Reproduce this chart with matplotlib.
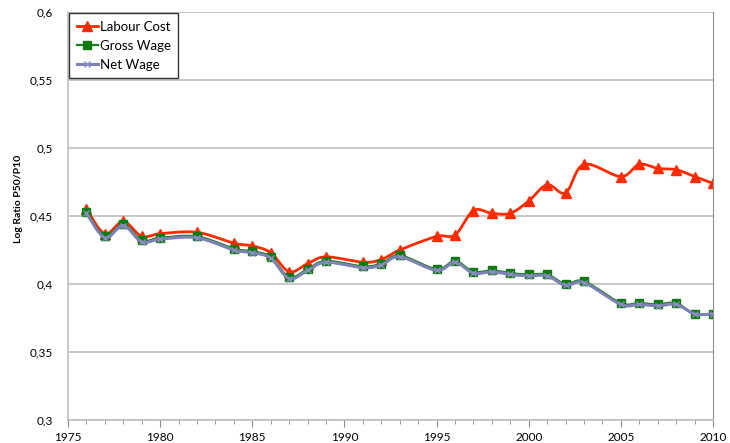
import numpy as np
import matplotlib.pyplot as plt
from matplotlib.ticker import FuncFormatter, MultipleLocator

# Data
years = [1976, 1977, 1978, 1979, 1980, 1982, 1984, 1985, 1986, 1987, 1988, 1989,
         1991, 1992, 1993, 1995, 1996, 1997, 1998, 1999, 2000, 2001, 2002, 2003,
         2005, 2006, 2007, 2008, 2009, 2010]
labour_cost = [0.455, 0.437, 0.446, 0.435, 0.437, 0.438, 0.430, 0.428, 0.423, 0.409,
               0.415, 0.420, 0.416, 0.418, 0.425, 0.435, 0.436, 0.454, 0.452, 0.452,
               0.461, 0.473, 0.467, 0.488, 0.479, 0.488, 0.485, 0.484, 0.479, 0.474]
gross_wage = [0.453, 0.435, 0.444, 0.432, 0.434, 0.435, 0.426, 0.424, 0.420, 0.405,
              0.411, 0.417, 0.413, 0.415, 0.421, 0.411, 0.417, 0.409, 0.410, 0.408,
              0.407, 0.407, 0.400, 0.402, 0.386, 0.386, 0.385, 0.386, 0.378, 0.378]
net_wage = [0.452, 0.434, 0.443, 0.431, 0.433, 0.434, 0.425, 0.423, 0.419, 0.404,
            0.410, 0.416, 0.412, 0.414, 0.420, 0.410, 0.416, 0.408, 0.409, 0.407,
            0.406, 0.406, 0.399, 0.401, 0.385, 0.385, 0.384, 0.385, 0.378, 0.378]


def smooth(x, y, n=20):
  """Excel-like smoothed line (Catmull-Rom through the points)"""
  x = np.asarray(x, float)
  y = np.asarray(y, float)
  px = np.concatenate([[x[0]], x, [x[-1]]])
  py = np.concatenate([[y[0]], y, [y[-1]]])
  xs, ys = [], []
  t = np.linspace(0, 1, n)
  for i in range(1, len(px) - 2):
    for p, out in ((px, xs), (py, ys)):
      p0, p1, p2, p3 = p[i - 1], p[i], p[i + 1], p[i + 2]
      m1 = (p2 - p0) / 6
      m2 = (p3 - p1) / 6
      out.extend((1 - t) ** 3 * p1 + 3 * (1 - t) ** 2 * t * (p1 + m1)
                 + 3 * (1 - t) * t ** 2 * (p2 - m2) + t ** 3 * p2)
  return xs, ys


plt.rcParams['font.family'] = ['Lato', 'DejaVu Sans']

fig = plt.figure(figsize=(7.3, 4.43), dpi=100)
ax = fig.add_axes([0.0932, 0.0519, 0.8835, 0.921])

series = [
  ('Labour Cost', labour_cost, '#FF2A00', '^', '#FF2A00', 6.5, 2.0),
  ('Gross Wage', gross_wage, '#1E7B1E', 's', '#0F7A0F', 6, 1.6),
  ('Net Wage', net_wage, '#7C83B4', 'x', '#8A90C0', 4, 2.2),
]
for name, vals, color, marker, mcolor, ms, lw in series:
  sx, sy = smooth(years, vals)
  ax.plot(sx, sy, color=color, lw=lw)
  ax.plot(years, vals, ls='none', marker=marker, ms=ms, color=mcolor,
          markeredgecolor=mcolor)
  ax.plot([], [], color=color, lw=lw, marker=marker, ms=ms,
          markeredgecolor=mcolor, markerfacecolor=mcolor, label=name)

ax.set_xlim(1975, 2010)
ax.set_ylim(0.3, 0.6)
ax.xaxis.set_major_locator(MultipleLocator(5))
ax.xaxis.set_minor_locator(MultipleLocator(1))
ax.yaxis.set_major_locator(MultipleLocator(0.05))
ax.yaxis.set_major_formatter(FuncFormatter(lambda v, p: ('%g' % round(v, 2)).replace('.', ',')))
ax.tick_params(axis='x', which='both', direction='out', colors='#888888',
               labelcolor='black', labelsize=8.5)
ax.tick_params(axis='x', which='major', length=5)
ax.tick_params(axis='x', which='minor', length=3)
ax.tick_params(axis='y', length=0, labelsize=8.5, pad=11)
ax.grid(axis='y', color='#BFBFBF', lw=1.2)
ax.set_axisbelow(True)
for side in ['left', 'bottom']:
  ax.spines[side].set_color('#BFBFBF')
  ax.spines[side].set_linewidth(1.2)
ax.spines['right'].set_color('#909090')
ax.spines['top'].set_visible(False)

ax.set_ylabel('Log Ratio P50/P10', fontsize=7.5, fontweight='bold')
ax.yaxis.set_label_coords(-0.07, 0.542)

leg = ax.legend(loc='upper left', fontsize=9.5, frameon=True, fancybox=False,
                borderaxespad=0.1, handlelength=1.6, handletextpad=0.15,
                labelspacing=0.55, borderpad=0.55)
leg.get_frame().set_edgecolor('black')
leg.get_frame().set_linewidth(1.0)

fig.savefig('out.png', dpi=100)
